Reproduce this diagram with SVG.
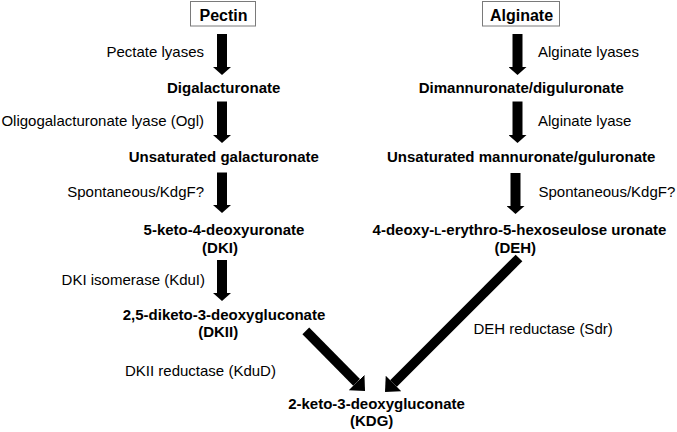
<svg xmlns="http://www.w3.org/2000/svg" width="677" height="432" viewBox="0 0 677 432">
<style>
text { font-family: "Liberation Sans", Arial, sans-serif; fill: #000; }
.n { font-size: 15px; font-weight: bold; text-anchor: middle; }
.t { font-size: 16px; font-weight: bold; text-anchor: middle; }
.l { font-size: 15px; text-anchor: end; }
.r { font-size: 15px; text-anchor: start; }
.box { fill: #fff; stroke: #7a7a7a; stroke-width: 1; }
.v { stroke: #000; stroke-width: 10; fill: none; marker-end: url(#hv); }
.d { stroke: #000; stroke-width: 9.5; fill: none; marker-end: url(#hd); }
</style>
<defs>
<marker id="hv" markerUnits="userSpaceOnUse" viewBox="0 0 8 18" refX="0" refY="9" markerWidth="8" markerHeight="18" orient="auto">
<path d="M0,0 L8,9 L0,18 Z" fill="#000"/>
</marker>
<marker id="hd" markerUnits="userSpaceOnUse" viewBox="0 0 12 22" refX="0" refY="11" markerWidth="12" markerHeight="22" orient="auto">
<path d="M0,0 L12,11 L0,22 Z" fill="#000"/>
</marker>
</defs>
<rect width="677" height="432" fill="#fff"/>

<g id="connectors">
<line class="v" x1="222" y1="34" x2="222" y2="67"/>
<line class="v" x1="222" y1="101.5" x2="222" y2="135"/>
<line class="v" x1="222" y1="172.5" x2="222" y2="205"/>
<line class="v" x1="222" y1="260" x2="222" y2="293"/>
<line class="v" x1="517.5" y1="34" x2="517.5" y2="67"/>
<line class="v" x1="517.5" y1="101.5" x2="517.5" y2="135"/>
<line class="v" x1="515.5" y1="173" x2="515.5" y2="206"/>
<line class="d" x1="305.8" y1="330.8" x2="356.6" y2="382.4"/>
<line class="d" x1="519" y1="258" x2="393.5" y2="383.5"/>
<text class="l" x="204" y="57">Pectate lyases</text>
<text class="l" x="204" y="126">Oligogalacturonate lyase (Ogl)</text>
<text class="l" x="204" y="196.5">Spontaneous/KdgF?</text>
<text class="l" x="205" y="285">DKI isomerase (KduI)</text>
<text class="r" x="125" y="376">DKII reductase (KduD)</text>
<text class="r" x="538" y="57">Alginate lyases</text>
<text class="r" x="538" y="126">Alginate lyase</text>
<text class="r" x="538.5" y="196.5">Spontaneous/KdgF?</text>
<text class="r" x="473.5" y="334">DEH reductase (Sdr)</text>
</g>

<g id="pectin">
<rect class="box" x="190.5" y="1.5" width="65" height="24.5"/>
<text class="t" x="223.5" y="20.5">Pectin</text>
</g>
<g id="alginate">
<rect class="box" x="482.5" y="1.5" width="77" height="24.5"/>
<text class="t" x="521.5" y="20.5">Alginate</text>
</g>
<g id="digalacturonate">
<text class="n" x="223.7" y="92.5">Digalacturonate</text>
</g>
<g id="unsat-galacturonate">
<text class="n" x="223.8" y="161.5">Unsaturated galacturonate</text>
</g>
<g id="dki">
<text class="n" x="224" y="234.5">5-keto-4-deoxyuronate</text>
<text class="n" x="220" y="252.5">(DKI)</text>
</g>
<g id="dkii">
<text class="n" x="224" y="319.5">2,5-diketo-3-deoxygluconate</text>
<text class="n" x="218.2" y="337">(DKII)</text>
</g>
<g id="dimannuronate">
<text class="n" x="521.3" y="92.5">Dimannuronate/diguluronate</text>
</g>
<g id="unsat-mannuronate">
<text class="n" x="521.2" y="161.5">Unsaturated mannuronate/guluronate</text>
</g>
<g id="deh">
<text class="n" x="519.5" y="234.5">4-deoxy-<tspan font-size="11.5px">L</tspan>-erythro-5-hexoseulose uronate</text>
<text class="n" x="515.3" y="252.5">(DEH)</text>
</g>
<g id="kdg">
<text class="n" x="376.5" y="408.5">2-keto-3-deoxygluconate</text>
<text class="n" x="371.7" y="426">(KDG)</text>
</g>
</svg>
